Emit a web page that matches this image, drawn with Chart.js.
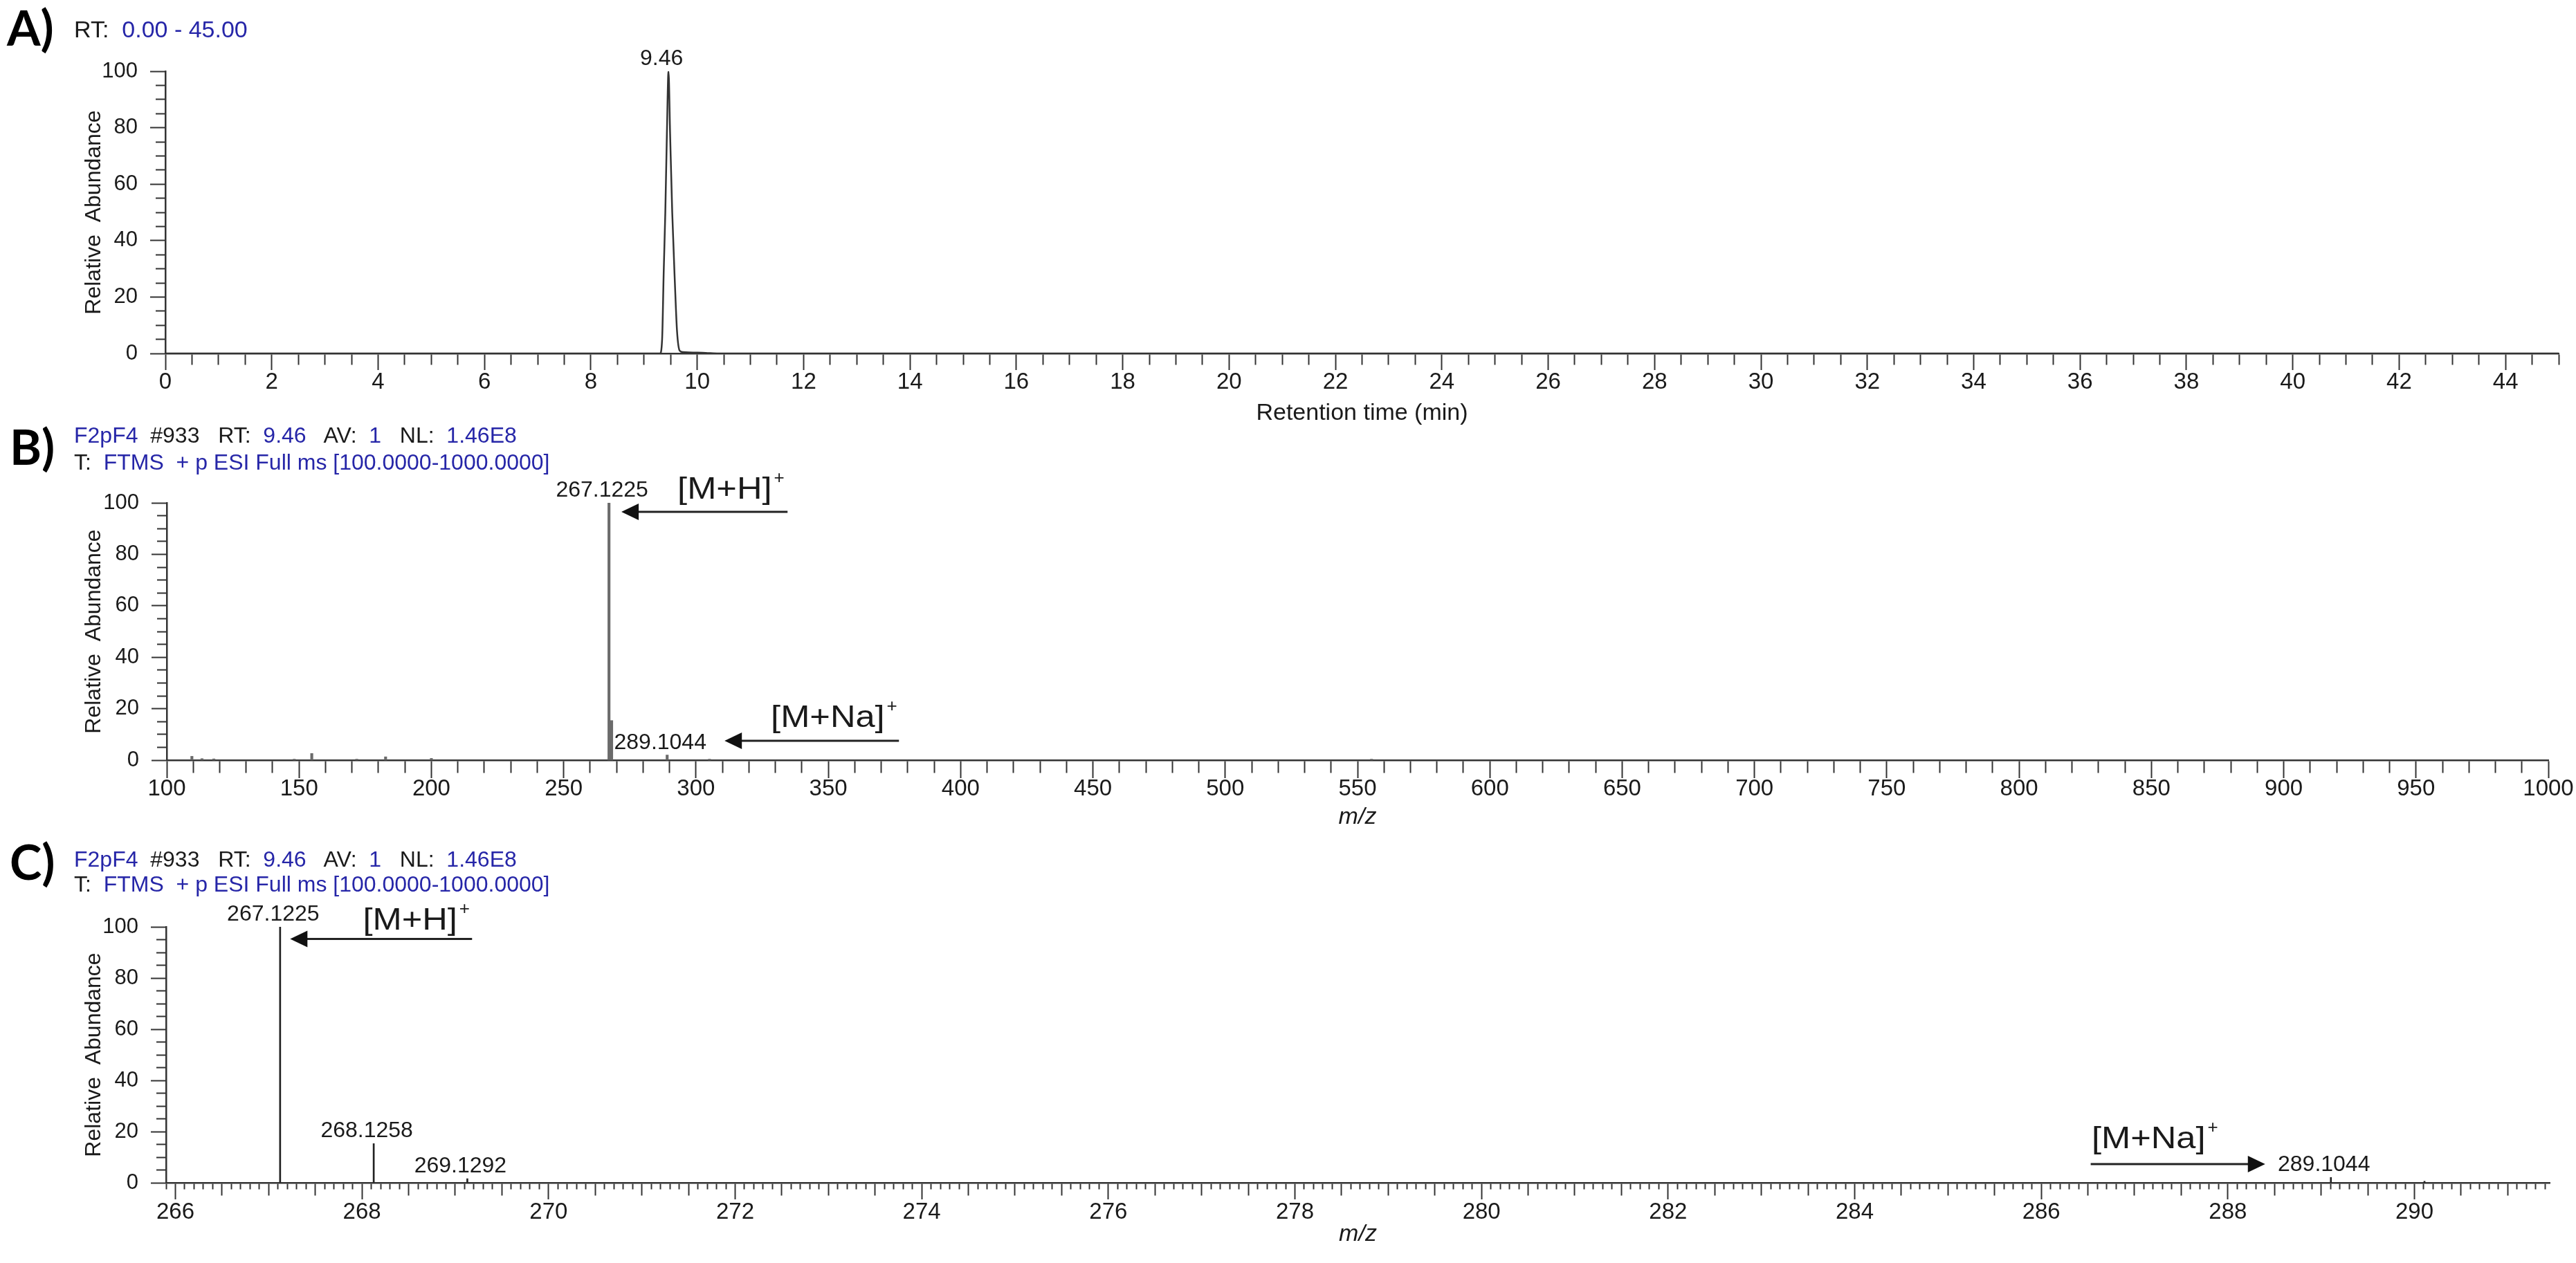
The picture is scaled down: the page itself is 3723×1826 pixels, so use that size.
<!DOCTYPE html>
<html>
<head>
<meta charset="utf-8">
<script src="https://cdn.jsdelivr.net/npm/chart.js@4.4.1/dist/chart.umd.min.js"></script>
<style>
  body { margin: 0; background: #fff; width: 3723px; height: 1826px; position: relative; overflow: hidden;
         font-family: "Liberation Sans", Arial, sans-serif; color: #1a1a1a; }
  canvas { position: absolute; left: 0; }
  .hd { position: absolute; white-space: pre; font-size: 32px; line-height: 32px; z-index: 2; }
  .b { color: #2626a8; }
  .tag { position: absolute; font-family: Lato, "Open Sans", sans-serif; font-weight: bold;
         font-size: 70px; line-height: 70px; color: #000; z-index: 2; }
</style>
</head>
<body>
<div class="tag" style="left:10px;top:4px">A)</div>
<div class="hd" style="left:107px;top:25px;font-size:34px;line-height:34px">RT:  <span class="b">0.00 - 45.00</span></div>

<div class="tag" style="left:14px;top:610px">B)</div>
<div class="hd" style="left:107px;top:613px"><span class="b">F2pF4</span>  #933   RT:  <span class="b">9.46</span>   AV:  <span class="b">1</span>   NL:  <span class="b">1.46E8</span></div>
<div class="hd" style="left:107px;top:652px">T:  <span class="b">FTMS  + p ESI Full ms [100.0000-1000.0000]</span></div>

<div class="tag" style="left:14px;top:1210px">C)</div>
<div class="hd" style="left:107px;top:1226px"><span class="b">F2pF4</span>  #933   RT:  <span class="b">9.46</span>   AV:  <span class="b">1</span>   NL:  <span class="b">1.46E8</span></div>
<div class="hd" style="left:107px;top:1262px">T:  <span class="b">FTMS  + p ESI Full ms [100.0000-1000.0000]</span></div>

<canvas id="chromCanvas" width="3723" height="620" style="top:0;width:3723px;height:620px"></canvas>
<canvas id="fullCanvas" width="3723" height="590" style="top:620px;width:3723px;height:590px"></canvas>
<canvas id="zoomCanvas" width="3723" height="616" style="top:1210px;width:3723px;height:616px"></canvas>

<script>
// A) chromatogram: retention time (min) vs relative abundance
const rtMin   = [0, 9.30, 9.34, 9.37, 9.40, 9.43, 9.46, 9.49, 9.53, 9.58, 9.62, 9.67, 9.73, 10.16, 10.40, 45];
const rtAbund = [0, 0,    5,    29,   50,   78,   100,  78,   50,   25,   8,    1,    0.5,  0.2,   0,     0];
const rtPeakLabels = [9.46];

// B) full scan spectrum at RT 9.46
const fullMz    = [109.5, 113.3, 117.8, 148.2, 154.8, 171.8, 182.7, 200.0, 267.1225, 268.1258, 289.1044, 305.1, 555.3];
const fullAbund = [1.5,   0.6,   0.5,   0.4,   2.6,   0.4,   1.3,   0.7,   100,      15.4,     2.0,      0.4,   0.4];
const fullPeakLabels = [267.1225, 289.1044];

// C) same scan, m/z 266-291
const zoomMz    = [267.1225, 268.1258, 269.1292, 289.1044, 290.1078];
const zoomAbund = [100,      15.3,     1.6,      2.1,      0.6];
const zoomPeakLabels = [267.1225, 268.1258, 269.1292, 289.1044];

// tick labels
const rtTickLabels = [0, 2, 4, 6, 8, 10, 12, 14, 16, 18, 20, 22, 24, 26, 28, 30, 32, 34, 36, 38, 40, 42, 44];
const fullTickLabels = [100, 150, 200, 250, 300, 350, 400, 450, 500, 550, 600, 650, 700, 750, 800, 850, 900, 950, 1000];
const zoomTickLabels = [266, 268, 270, 272, 274, 276, 278, 280, 282, 284, 286, 288, 290];
const abundTickLabels = [0, 20, 40, 60, 80, 100];

// ion annotations (text anchor, arrow tip and tail, in axis units)
const fullIons = [
  { text: '[M+H]',  at: [293.0, 101.6], tip: [271.8, 96.5], tail: [334.6, 96.5] },
  { text: '[M+Na]', at: [328.3, 12.9],  tip: [310.8, 7.5],  tail: [376.7, 7.5] }
];
const zoomIons = [
  { text: '[M+H]',  at: [268.01, 99.0], tip: [267.23, 95.3], tail: [269.18, 95.3] },
  { text: '[M+Na]', at: [286.54, 13.5], tip: [288.40, 7.3],  tail: [286.53, 7.3] }
];

const FONT = '"Liberation Sans", Arial, sans-serif';
const TXT = '#1a1a1a';
const AXIS = '#333';
Chart.defaults.font.family = FONT;
Chart.defaults.color = TXT;

const near = (v, list) => list.some(t => Math.abs(t - v) < 1e-6);
const onStep = (v, s) => Math.abs(v / s - Math.round(v / s)) < 1e-6;

function axisTicks(from, to, step) {
  const n = Math.round((to - from) / step);
  const out = [];
  for (let i = 0; i <= n; i++) out.push({ value: +(from + i * step).toFixed(6) });
  return out;
}

function xScale(o) {
  return {
    type: 'linear', min: o.min, max: o.max, offset: false,
    afterBuildTicks: s => { s.ticks = axisTicks(o.first, o.last, o.step); },
    afterFit: s => { s.height = o.height; },
    border: { color: AXIS, width: 2.5 },
    grid: {
      offset: false, drawOnChartArea: false, tickLength: o.tickLen, tickWidth: 2, tickColor: AXIS,
      tickBorderDash: c => {
        if (!c.tick) return [];
        const len = o.lenFor(c.tick.value);
        return len >= o.tickLen ? [] : [len, 1000];
      }
    },
    ticks: {
      autoSkip: false, maxRotation: 0, padding: o.pad, font: { size: 33 }, color: TXT,
      callback: v => near(v, o.labels) ? String(v) : ''
    },
    title: {
      display: true, text: o.title, color: TXT,
      font: { size: 34, style: o.italic ? 'italic' : 'normal' },
      padding: { top: 0, bottom: o.titlePad }
    }
  };
}

function yScale(width) {
  return {
    type: 'linear', min: 0, max: 100,
    afterBuildTicks: s => { s.ticks = axisTicks(0, 100, 5); },
    afterFit: s => { s.width = width; },
    border: { color: AXIS, width: 2.5 },
    grid: {
      drawOnChartArea: false, tickLength: 22, tickWidth: 2, tickColor: AXIS,
      tickBorderDash: c => (!c.tick || near(c.tick.value, abundTickLabels)) ? [] : [0, 8, 13, 1000]
    },
    ticks: {
      autoSkip: false, padding: 18, font: { size: 31 }, color: TXT,
      callback: v => near(v, abundTickLabels) ? String(v) : ''
    },
    title: { display: true, text: 'Relative  Abundance', color: TXT, font: { size: 32 }, padding: { top: 117, bottom: 0 } }
  };
}

// peak labels, arrows and ion names drawn through the chart scales
function annotations(xs, ys, labelled, digits, ions) {
  return {
    id: 'annotations',
    afterDatasetsDraw(chart) {
      const { ctx } = chart;
      const x = chart.scales.x, y = chart.scales.y;
      ctx.save();
      ctx.fillStyle = TXT;
      ctx.textBaseline = 'alphabetic';
      ctx.font = '32px ' + FONT;
      ctx.textAlign = 'center';
      labelled.forEach(m => {
        const i = xs.findIndex(v => Math.abs(v - m) < 1e-6);
        ctx.fillText(m.toFixed(digits), x.getPixelForValue(m) - 10, y.getPixelForValue(ys[i]) - 9);
      });
      ions.forEach(a => {
        const tx = x.getPixelForValue(a.tip[0]);
        const ty = y.getPixelForValue(a.tip[1]);
        const sx = x.getPixelForValue(a.tail[0]);
        const dir = Math.sign(sx - tx);
        ctx.strokeStyle = '#222';
        ctx.fillStyle = '#111';
        ctx.lineWidth = 3;
        ctx.beginPath();
        ctx.moveTo(sx, ty);
        ctx.lineTo(tx + dir * 20, ty);
        ctx.stroke();
        ctx.beginPath();
        ctx.moveTo(tx, ty);
        ctx.lineTo(tx + dir * 25, ty - 12);
        ctx.lineTo(tx + dir * 25, ty + 12);
        ctx.closePath();
        ctx.fill();

        const lx = x.getPixelForValue(a.at[0]);
        const ly = y.getPixelForValue(a.at[1]);
        ctx.fillStyle = TXT;
        ctx.textAlign = 'left';
        ctx.font = '44px ' + FONT;
        ctx.save();
        ctx.translate(lx, ly);
        ctx.scale(1.15, 1);
        ctx.fillText(a.text, 0, 0);
        const w = ctx.measureText(a.text).width * 1.15;
        ctx.restore();
        ctx.font = '26px ' + FONT;
        ctx.fillText('+', lx + w + 3, ly - 22);
      });
      ctx.restore();
    }
  };
}

const common = {
  responsive: false, animation: false, devicePixelRatio: 1, events: [],
  plugins: { legend: { display: false }, tooltip: { enabled: false } }
};

new Chart(document.getElementById('chromCanvas'), {
  type: 'line',
  data: {
    datasets: [{
      data: rtMin.map((t, i) => ({ x: t, y: rtAbund[i] })),
      borderColor: '#333', borderWidth: 2.5, pointRadius: 0, cubicInterpolationMode: 'monotone', fill: false
    }]
  },
  options: {
    ...common,
    layout: { padding: { left: 0, right: 25, top: 103, bottom: 0 } },
    scales: {
      x: xScale({
        min: 0, max: 45, first: 0, last: 45, step: 0.5, height: 109, tickLen: 24, pad: -2,
        lenFor: v => onStep(v, 2) ? 24 : 15, labels: rtTickLabels,
        title: 'Retention time (min)', titlePad: 2
      }),
      y: yScale(239)
    }
  },
  plugins: [annotations(rtMin, rtAbund, rtPeakLabels, 2, [])]
});

new Chart(document.getElementById('fullCanvas'), {
  type: 'bar',
  data: {
    datasets: [{
      data: fullMz.map((m, i) => ({ x: m, y: fullAbund[i] })),
      backgroundColor: '#6b6b6b', borderWidth: 0, barThickness: 3.5
    }]
  },
  options: {
    ...common,
    layout: { padding: { left: 0, right: 40, top: 107, bottom: 0 } },
    scales: {
      x: xScale({
        min: 100, max: 1000, first: 100, last: 1000, step: 10, height: 111, tickLen: 26, pad: -4,
        lenFor: v => onStep(v, 50) ? 26 : 17, labels: fullTickLabels,
        title: 'm/z', italic: true, titlePad: 8
      }),
      y: yScale(241)
    }
  },
  plugins: [annotations(fullMz, fullAbund, fullPeakLabels, 4, fullIons)]
});

new Chart(document.getElementById('zoomCanvas'), {
  type: 'bar',
  data: {
    datasets: [{
      data: zoomMz.map((m, i) => ({ x: m, y: zoomAbund[i] })),
      backgroundColor: '#222', borderWidth: 0, barThickness: 2
    }]
  },
  options: {
    ...common,
    layout: { padding: { left: 0, right: 38, top: 130, bottom: 0 } },
    scales: {
      x: xScale({
        min: 265.9, max: 291.45, first: 265.9, last: 291.4, step: 0.1, height: 116, tickLen: 24, pad: -1,
        lenFor: v => onStep(v, 2) ? 24 : (onStep(v, 0.5) ? 17 : 8), labels: zoomTickLabels,
        title: 'm/z', italic: true, titlePad: 21
      }),
      y: yScale(240)
    }
  },
  plugins: [annotations(zoomMz, zoomAbund, zoomPeakLabels, 4, zoomIons)]
});
</script>
</body>
</html>
